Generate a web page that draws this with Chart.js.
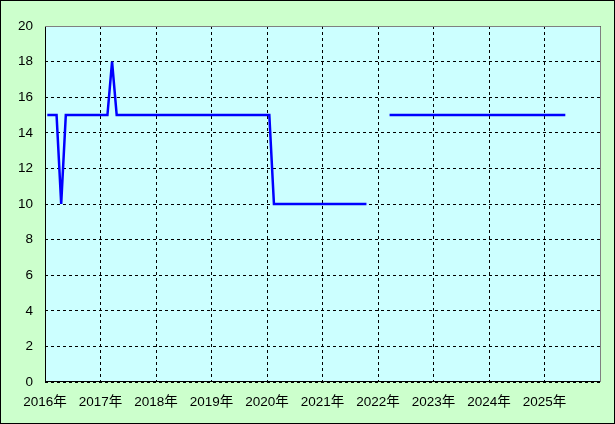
<!DOCTYPE html>
<html>
<head>
<meta charset="utf-8">
<script src="https://cdn.jsdelivr.net/npm/chart.js@4"></script>
<style>
  html, body { margin: 0; padding: 0; background: #ccffcc; }
  #wrap { width: 615px; height: 424px; }
</style>
</head>
<body>
<div id="wrap"><canvas id="chart" width="615" height="424"></canvas></div>
<script>
// monthly values, Jan 2016 .. May 2025 (null = no data)
const startYear = 2016;
const v2016 = [15, 15, 15, 10, 15, 15, 15, 15, 15, 15, 15, 15];
const v2017 = [15, 15, 18, 15, 15, 15, 15, 15, 15, 15, 15, 15];
const v2018 = [15, 15, 15, 15, 15, 15, 15, 15, 15, 15, 15, 15];
const v2019 = [15, 15, 15, 15, 15, 15, 15, 15, 15, 15, 15, 15];
const v2020 = [15, 10, 10, 10, 10, 10, 10, 10, 10, 10, 10, 10];
const v2021 = [10, 10, 10, 10, 10, 10, 10, 10, 10, 10, null, null];
const v2022 = [null, null, 15, 15, 15, 15, 15, 15, 15, 15, 15, 15];
const v2023 = [15, 15, 15, 15, 15, 15, 15, 15, 15, 15, 15, 15];
const v2024 = [15, 15, 15, 15, 15, 15, 15, 15, 15, 15, 15, 15];
const v2025 = [15, 15, 15, 15, 15];
const yearTicks = [2016, 2017, 2018, 2019, 2020, 2021, 2022, 2023, 2024, 2025];

const values = [].concat(v2016, v2017, v2018, v2019, v2020, v2021, v2022, v2023, v2024, v2025);
// each month plotted at its middle
const points = values.map((y, i) => ({ x: startYear + (i + 0.5) / 12, y: y }));

const font = { family: "'Liberation Sans', 'Noto Sans CJK JP', sans-serif", size: 13.5 };

const framePlugin = {
  id: "frame",
  beforeDraw(chart) {
    const ctx = chart.ctx;
    const a = chart.chartArea;
    ctx.save();
    ctx.fillStyle = "#ccffcc";
    ctx.fillRect(0, 0, chart.width, chart.height);
    ctx.fillStyle = "#ccffff";
    ctx.fillRect(a.left, a.top, a.right - a.left, a.bottom - a.top);
    ctx.restore();
  },
  afterDraw(chart) {
    const ctx = chart.ctx;
    const a = chart.chartArea;
    ctx.save();
    ctx.lineWidth = 1;
    ctx.strokeStyle = "#808080";
    ctx.beginPath();
    ctx.moveTo(a.left, a.top + 0.5);
    ctx.lineTo(a.right + 0.5, a.top + 0.5);
    ctx.lineTo(a.right + 0.5, a.bottom);
    ctx.stroke();
    ctx.strokeStyle = "#000";
    ctx.strokeRect(0.5, 0.5, chart.width - 1, chart.height - 1);
    ctx.restore();
  }
};

new Chart(document.getElementById("chart"), {
  type: "line",
  data: {
    datasets: [
      {
        data: points,
        borderColor: "#0000ff",
        borderWidth: 2.5,
        pointRadius: 0,
        tension: 0,
        spanGaps: false,
      },
    ],
  },
  options: {
    responsive: false,
    animation: false,
    layout: { padding: { left: 0, top: 26, right: 15, bottom: 0 } },
    plugins: { legend: { display: false }, tooltip: { enabled: false } },
    scales: {
      x: {
        type: "linear",
        min: 2016,
        max: 2026,
        afterBuildTicks: (scale) => {
          scale.ticks = yearTicks.concat([2026]).map((v) => ({ value: v }));
        },
        afterFit: (scale) => { scale.height = 42; },
        ticks: {
          color: "#000",
          font: font,
          padding: 12,
          maxRotation: 0,
          autoSkip: false,
          callback: (v) => (yearTicks.includes(v) ? v + "年" : ""),
        },
        grid: { color: "#000", drawTicks: false },
        border: { color: "#000", dash: [3, 3], display: false },
      },
      y: {
        min: 0,
        max: 20,
        afterFit: (scale) => { scale.width = 45; },
        ticks: { stepSize: 2, color: "#000", font: font, padding: 12 },
        grid: { color: "#000", drawTicks: false },
        border: { color: "#000", dash: [3, 3], display: false },
      },
    },
  },
  plugins: [framePlugin, {
    id: "axisLines",
    beforeDatasetsDraw(chart) {
      const ctx = chart.ctx;
      const a = chart.chartArea;
      ctx.save();
      ctx.strokeStyle = "#000";
      ctx.lineWidth = 1;
      ctx.beginPath();
      ctx.moveTo(a.left + 0.5, a.top);
      ctx.lineTo(a.left + 0.5, a.bottom - 0.5);
      ctx.lineTo(a.right + 1, a.bottom - 0.5);
      ctx.stroke();
      ctx.restore();
    }
  }],
});
</script>
</body>
</html>
